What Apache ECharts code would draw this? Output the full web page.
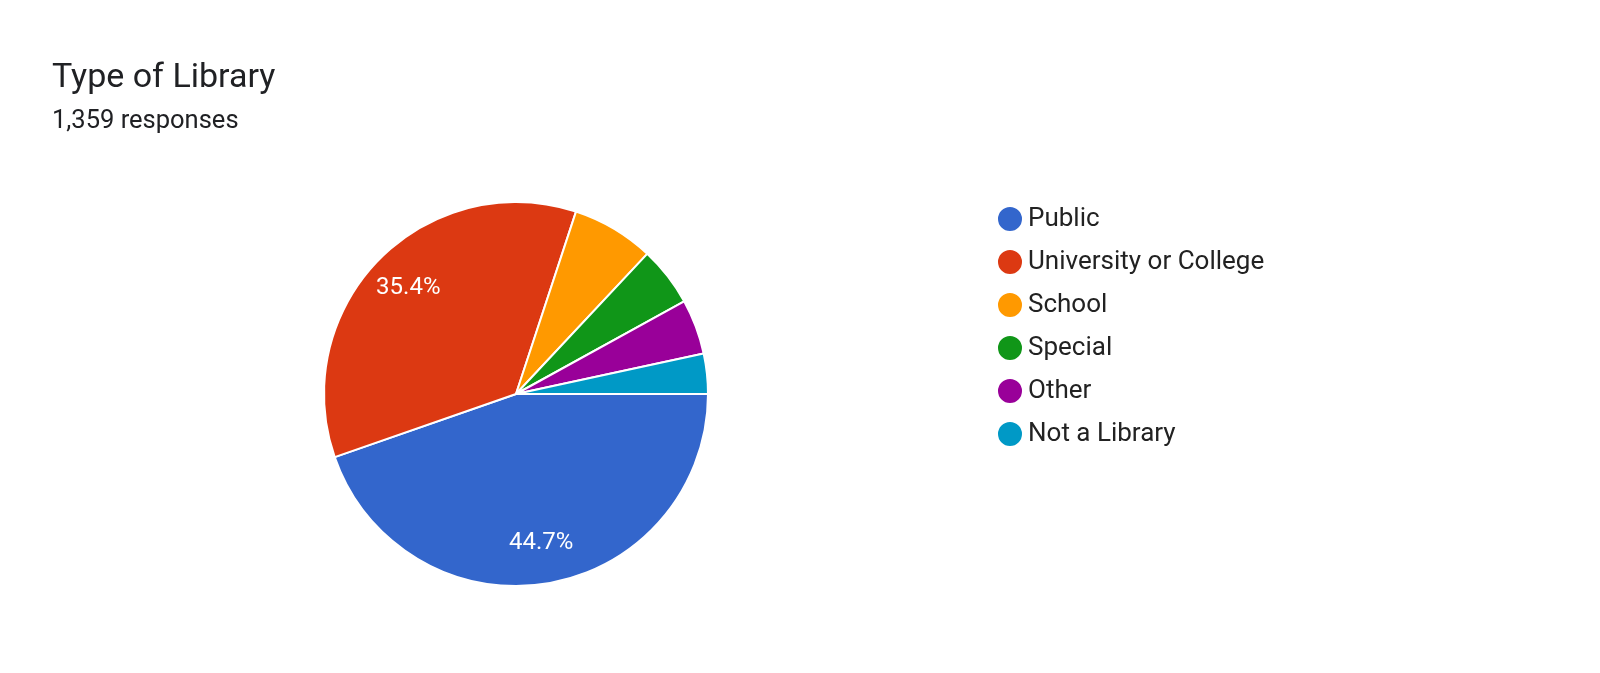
<!DOCTYPE html>
<html>
<head>
<meta charset="utf-8">
<script src="https://cdn.jsdelivr.net/npm/echarts@6/dist/echarts.min.js"></script>
<style>html,body{margin:0;background:#fff}#c{width:1600px;height:673px}</style>
</head>
<body>
<div id="c"></div>
<script>
// survey results
var categories = ['Public', 'University or College', 'School', 'Special', 'Other', 'Not a Library'];
var counts = [607, 481, 94, 68, 63, 46];
var colors = ['#3366cc', '#dc3912', '#ff9900', '#109618', '#990099', '#0099c6'];

var data = categories.map(function (name, i) {
    return { name: name, value: counts[i], itemStyle: { color: colors[i] } };
});

var chart = echarts.init(document.getElementById('c'));
chart.setOption({
    animation: false,
    title: {
        text: 'Type of Library',
        subtext: '1,359 responses',
        left: 47, top: 56,
        itemGap: 14,
        textStyle: { fontFamily: 'Roboto', fontSize: 34, fontWeight: 'normal', color: '#202124' },
        subtextStyle: { fontFamily: 'Roboto', fontSize: 25.5, color: '#202124' }
    },
    legend: {
        orient: 'vertical',
        left: 991, top: 200,
        icon: 'circle',
        itemWidth: 26, itemHeight: 26,
        itemGap: 15,
        textStyle: { fontFamily: 'Roboto', fontSize: 26, color: '#222' },
        data: categories
    },
    series: [{
        type: 'pie',
        center: [516, 394],
        radius: [0, 192],
        startAngle: 0,
        clockwise: true,
        label: { show: false },
        labelLine: { show: false },
        itemStyle: { borderColor: '#fff', borderWidth: 2 },
        data: data
    }, {
        // transparent ring used only to place the percentages near 3/4 radius
        type: 'pie',
        center: [516, 394],
        radius: [104, 192],
        startAngle: 0,
        silent: true,
        legendHoverLink: false,
        itemStyle: { color: 'rgba(0,0,0,0)' },
        label: {
            position: 'inside',
            fontFamily: 'Roboto', fontSize: 24, color: '#fff',
            formatter: function (p) { return p.percent >= 10 ? p.percent.toFixed(1) + '%' : ''; }
        },
        labelLine: { show: false },
        data: categories.map(function (name, i) { return { name: name + ' ', value: counts[i] }; })
    }]
});
</script>
</body>
</html>
